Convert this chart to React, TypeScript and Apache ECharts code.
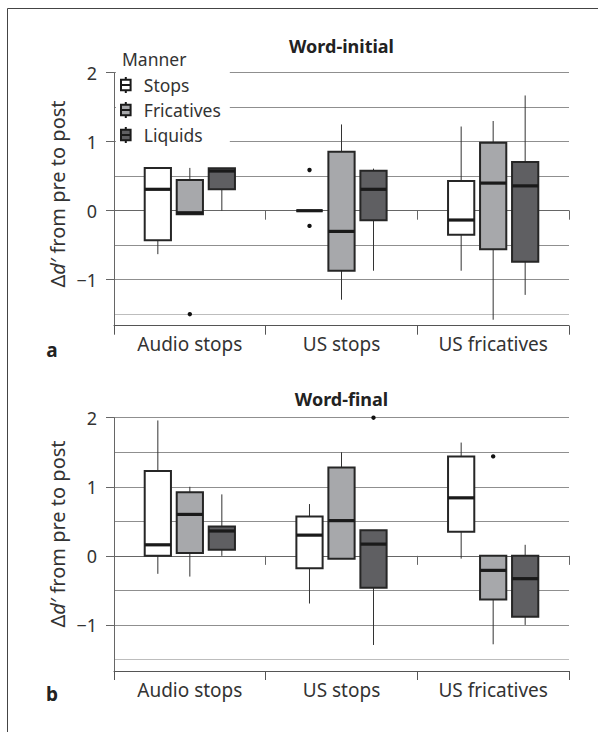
import React, { useEffect, useRef } from 'react';
import * as echarts from 'echarts';

const categories = ['Audio stops', 'US stops', 'US fricatives'];
const manners = ['Stops', 'Fricatives', 'Liquids'];
const yTickValues = [-1, 0, 1, 2];
const gridLineValues = [-1.5, -1, -0.5, 0, 0.5, 1, 1.5, 2];

// [min, Q1, median, Q3, max] for each category
const initialStops = [
  [-0.63, -0.43, 0.31, 0.62, 0.62],
  [0, 0, 0, 0, 0],
  [-0.87, -0.35, -0.135, 0.43, 1.22],
];
const initialFricatives = [
  [-0.05, -0.05, -0.03, 0.445, 0.62],
  [-1.29, -0.87, -0.3, 0.855, 1.25],
  [-1.58, -0.56, 0.4, 0.985, 1.3],
];
const initialLiquids = [
  [0.0, 0.31, 0.575, 0.615, 0.615],
  [-0.87, -0.14, 0.31, 0.58, 0.61],
  [-1.22, -0.74, 0.36, 0.705, 1.67],
];
// [category index, manner index, value]
const initialOutliers = [
  [0, 1, -1.5],
  [1, 0, 0.59],
  [1, 0, -0.22],
];

const finalStops = [
  [-0.26, 0.0, 0.16, 1.23, 1.96],
  [-0.69, -0.18, 0.3, 0.57, 0.75],
  [-0.04, 0.35, 0.84, 1.44, 1.64],
];
const finalFricatives = [
  [-0.3, 0.04, 0.6, 0.92, 1.0],
  [-0.04, -0.04, 0.51, 1.28, 1.5],
  [-1.28, -0.63, -0.21, 0.0, 0.0],
];
const finalLiquids = [
  [0.0, 0.09, 0.36, 0.425, 0.89],
  [-1.29, -0.46, 0.17, 0.37, 0.37],
  [-1.0, -0.88, -0.33, 0.0, 0.16],
];
const finalOutliers = [
  [1, 2, 2.0],
  [2, 1, 1.44],
];

const FONT = '"Noto Sans", "Open Sans", sans-serif';
const fills = ['#ffffff', '#a7a8ab', '#5f5f62'];
const OFFSET = 0.211;
const BOXW = 0.173;
const ICON = 'path://M4.5,0V2.5M0,2.5H9V12.5H0ZM0,7.5H9M4.5,12.5V15';

function boxSeries(name: string, stats: number[][], fill: string, mannerIdx: number, panel: number) {
  return {
    type: 'custom',
    name,
    xAxisIndex: panel * 2,
    yAxisIndex: panel * 2,
    itemStyle: { color: fill, borderColor: '#222' },
    encode: { x: 0, y: [1, 2, 3, 4, 5] },
    data: stats.map((s, i) => [i, ...s]),
    z: 5,
    renderItem: (params: any, api: any) => {
      const cat = api.value(0);
      const band = api.size([1, 0])[0];
      const cx = api.coord([cat, 0])[0] + (mannerIdx - 1) * OFFSET * band;
      const w = band * BOXW;
      const y = (v: number) => api.coord([cat, v])[1];
      const mn = api.value(1), q1 = api.value(2), md = api.value(3), q3 = api.value(4), mx = api.value(5);
      const children: any[] = [];
      if (mx > q3) {
        children.push({ type: 'line', shape: { x1: cx, y1: y(mx), x2: cx, y2: y(q3) }, style: { stroke: '#333', lineWidth: 1 } });
      }
      if (mn < q1) {
        children.push({ type: 'line', shape: { x1: cx, y1: y(q1), x2: cx, y2: y(mn) }, style: { stroke: '#333', lineWidth: 1 } });
      }
      children.push({
        type: 'rect',
        shape: { x: cx - w / 2, y: y(q3), width: w, height: y(q1) - y(q3) },
        style: { fill, stroke: '#262626', lineWidth: 2 },
      });
      children.push({
        type: 'line',
        shape: { x1: cx - w / 2, y1: y(md), x2: cx + w / 2, y2: y(md) },
        style: { stroke: '#1a1a1a', lineWidth: 3.2 },
      });
      return { type: 'group', children };
    },
  };
}

function outlierSeries(data: number[][], panel: number) {
  return {
    type: 'custom',
    name: 'outliers',
    xAxisIndex: panel * 2,
    yAxisIndex: panel * 2,
    encode: { x: 0, y: 2 },
    data,
    z: 6,
    renderItem: (params: any, api: any) => {
      const cat = api.value(0);
      const m = api.value(1);
      const band = api.size([1, 0])[0];
      const p = api.coord([cat, api.value(2)]);
      return {
        type: 'circle',
        shape: { cx: p[0] + (m - 1) * OFFSET * band, cy: p[1], r: 2.2 },
        style: { fill: '#111' },
      };
    },
  };
}

function xAxes(gridIndex: number) {
  return [
    {
      type: 'category',
      gridIndex,
      data: categories,
      position: 'bottom',
      boundaryGap: true,
      axisLine: { show: true, onZero: false, lineStyle: { color: '#555', width: 1 } },
      axisTick: { show: true, length: 9, alignWithLabel: false, lineStyle: { color: '#555' } },
      axisLabel: { fontSize: 19, color: '#333', fontFamily: FONT, margin: 9 },
      splitLine: { show: false },
    },
    {
      type: 'category',
      gridIndex,
      data: categories,
      position: 'bottom',
      boundaryGap: true,
      axisLine: { show: true, onZero: true, lineStyle: { color: '#666', width: 1 } },
      axisTick: { show: true, length: 9, alignWithLabel: false, lineStyle: { color: '#666' } },
      axisLabel: { show: false },
      splitLine: { show: false },
    },
  ];
}

function yAxes(gridIndex: number) {
  return [
    {
      type: 'value',
      gridIndex,
      min: -5 / 3,
      max: 2,
      axisLine: { show: true, onZero: false, lineStyle: { color: '#666', width: 1 } },
      axisTick: { show: true, length: 8, customValues: yTickValues, lineStyle: { color: '#666' } },
      axisLabel: {
        customValues: yTickValues,
        fontSize: 18,
        color: '#333',
        fontFamily: FONT,
        margin: 17,
        formatter: (v: number) => (v < 0 ? '\u2212' + Math.abs(v) : String(v)),
      },
      splitLine: { show: false },
    },
    {
      type: 'value',
      gridIndex,
      min: -5 / 3,
      max: 2,
      position: 'left',
      axisLine: { show: false, onZero: false },
      axisTick: { show: false, customValues: gridLineValues },
      axisLabel: { show: false },
      splitLine: {
        show: true,
        lineStyle: {
          color: ['#bdbdbd', '#8f8f8f', '#8f8f8f', '#8f8f8f', '#8f8f8f', '#8f8f8f', '#8f8f8f', '#8f8f8f'],
          width: 1,
        },
      },
    },
  ];
}

function yLabel(x: number, y: number) {
  return {
    type: 'text',
    x,
    y,
    rotation: Math.PI / 2,
    style: {
      text: '{n|\u0394}{i|d\u2032}{n| from pre to post}',
      rich: {
        n: { fontSize: 20, fontFamily: FONT, fill: '#333' },
        i: { fontSize: 20, fontFamily: FONT, fontStyle: 'italic', fill: '#333' },
      },
      textAlign: 'center',
      textVerticalAlign: 'middle',
    },
  };
}

export default function App() {
  const ref = useRef<HTMLDivElement>(null);
  useEffect(() => {
    if (!ref.current) return;
    const chart = echarts.init(ref.current, null, { renderer: 'svg' });
    const option: any = {
      animation: false,
      backgroundColor: '#fff',
      grid: [
        { left: 114, top: 72.7, width: 455, height: 253, containLabel: false, outerBoundsMode: 'none' },
        { left: 114, top: 417.7, width: 455, height: 253.3, containLabel: false, outerBoundsMode: 'none' },
      ],
      xAxis: [...xAxes(0), ...xAxes(1)],
      yAxis: [...yAxes(0), ...yAxes(1)],
      legend: {
        data: manners.map((m, i) => ({
          name: m,
          icon: ICON,
          itemStyle: { color: fills[i], borderColor: '#1a1a1a', borderWidth: 2 },
        })),
        selectedMode: false,
        orient: 'vertical',
        left: 116,
        top: 71,
        itemWidth: 10,
        itemHeight: 16,
        itemGap: 7,
        padding: [5, 9, 4, 4],
        backgroundColor: '#fff',
        z: 10,
        textStyle: { fontSize: 17.5, lineHeight: 18, color: '#333', fontFamily: FONT, padding: [0, 0, 0, 8] },
      },
      graphic: [
        {
          type: 'rect',
          shape: { x: 7.5, y: 8.5, width: 640, height: 780 },
          style: { fill: 'none', stroke: '#444', lineWidth: 1 },
          silent: true,
        },
        { type: 'text', x: 341.5, y: 45.5, style: { text: 'Word-initial', font: 'bold 18px ' + FONT, fill: '#222', textAlign: 'center', textVerticalAlign: 'middle' } },
        { type: 'text', x: 341.5, y: 399, style: { text: 'Word-final', font: 'bold 18px ' + FONT, fill: '#222', textAlign: 'center', textVerticalAlign: 'middle' } },
        { type: 'text', x: 122, y: 58.5, style: { text: 'Manner', font: '17.5px ' + FONT, fill: '#333', textAlign: 'left', textVerticalAlign: 'middle' } },
        { type: 'text', x: 52, y: 350, style: { text: 'a', font: 'bold 19px ' + FONT, fill: '#222', textAlign: 'center', textVerticalAlign: 'middle' } },
        { type: 'text', x: 52, y: 693.5, style: { text: 'b', font: 'bold 19px ' + FONT, fill: '#222', textAlign: 'center', textVerticalAlign: 'middle' } },
        yLabel(57, 194),
        yLabel(57, 534),
      ],
      series: [
        boxSeries('Stops', initialStops, fills[0], 0, 0),
        boxSeries('Fricatives', initialFricatives, fills[1], 1, 0),
        boxSeries('Liquids', initialLiquids, fills[2], 2, 0),
        outlierSeries(initialOutliers, 0),
        boxSeries('Stops', finalStops, fills[0], 0, 1),
        boxSeries('Fricatives', finalFricatives, fills[1], 1, 1),
        boxSeries('Liquids', finalLiquids, fills[2], 2, 1),
        outlierSeries(finalOutliers, 1),
      ],
    };
    chart.setOption(option);
    return () => chart.dispose();
  }, []);
  return <div ref={ref} style={{ position: 'fixed', left: 0, top: 0, width: 598, height: 732 }} />;
}
